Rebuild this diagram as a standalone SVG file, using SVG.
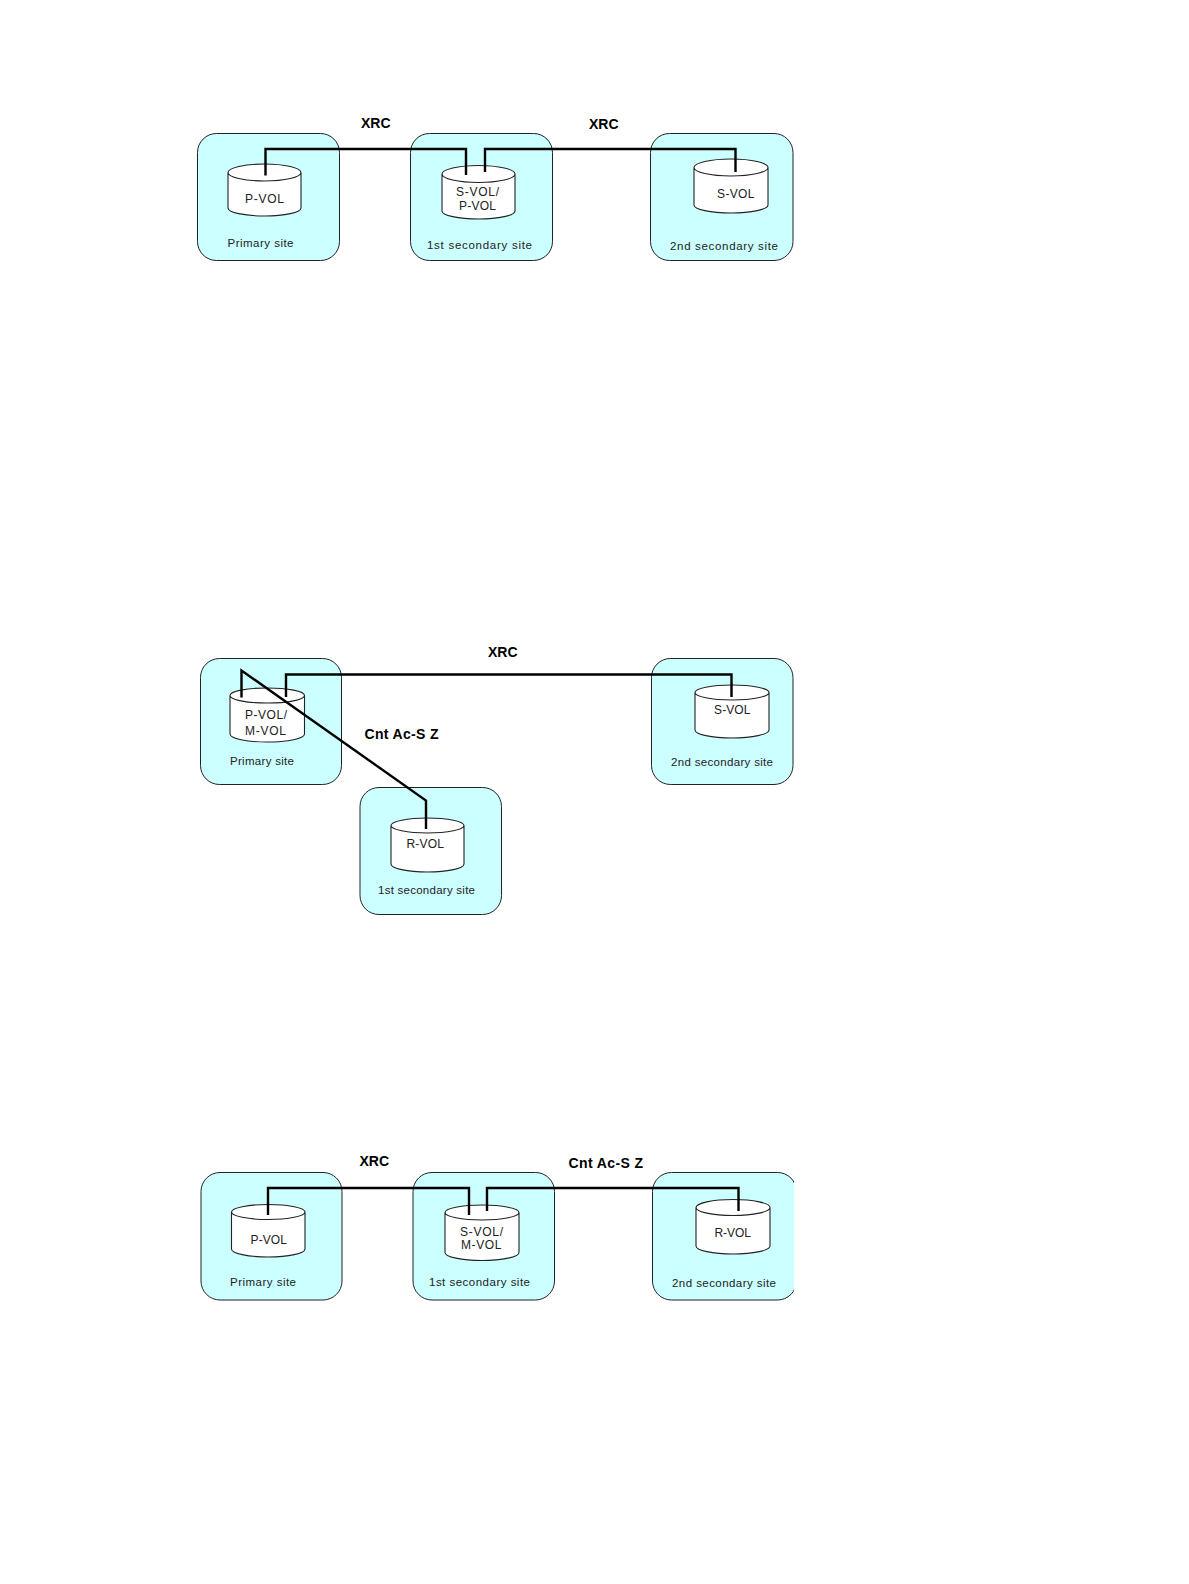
<svg xmlns="http://www.w3.org/2000/svg" width="1189" height="1584" viewBox="0 0 1189 1584">
<style>
.site{fill:#ccffff;stroke:#222;stroke-width:1}
.cyl{fill:#fff;stroke:#222;stroke-width:1.1}
.wire{fill:none;stroke:#000;stroke-width:2.4;stroke-linejoin:miter}
text{font-family:"Liberation Sans",Arial,sans-serif;fill:#222}
.v{font-size:12px}
.s{font-size:11.5px}
.b{font-size:14px;font-weight:bold;fill:#000}
</style>
<defs>
<clipPath id="edge"><rect x="640" y="1160" width="154" height="150"/></clipPath>
</defs>
<rect width="1189" height="1584" fill="#fff"/>

<g id="row1-primary">
<rect class="site" x="197.500" y="133.500" width="142" height="127" rx="19"/>
<path class="cyl" d="M228,172.500A36.500,8.500 0 0 0 301,172.500A36.500,8.500 0 0 0 228,172.500V208A36.500,8 0 0 0 301,208V172.500"/>
<text class="v" x="245" y="203" textLength="39">P-VOL</text>
<text class="s" x="227.500" y="247" textLength="66">Primary site</text>
</g>
<g id="row1-first">
<rect class="site" x="410.500" y="133.500" width="142" height="127" rx="19"/>
<path class="cyl" d="M442,174A36.500,8.500 0 0 0 515,174A36.500,8.500 0 0 0 442,174V211A36.500,8 0 0 0 515,211V174"/>
<text class="v" x="456" y="195.500" textLength="43">S-VOL/</text>
<text class="v" x="459" y="210" textLength="37">P-VOL</text>
<text class="s" x="427" y="249" textLength="105">1st secondary site</text>
</g>
<g id="row1-second">
<rect class="site" x="650.500" y="133.500" width="142.500" height="127" rx="19"/>
<path class="cyl" d="M694,167.500A37,8.500 0 0 0 768,167.500A37,8.500 0 0 0 694,167.500V205A37,8 0 0 0 768,205V167.500"/>
<text class="v" x="717" y="198" textLength="37.500">S-VOL</text>
<text class="s" x="670" y="250" textLength="108">2nd secondary site</text>
</g>

<g id="row2-primary">
<rect class="site" x="200.500" y="658.500" width="141" height="126" rx="19"/>
<path class="cyl" d="M230,695.500A37,7.500 0 0 0 304.500,695.500A37,7.500 0 0 0 230,695.500V734A37,8 0 0 0 304.500,734V695.500"/>
<text class="v" x="245" y="719" textLength="42">P-VOL/</text>
<text class="v" x="245" y="735" textLength="41">M-VOL</text>
<text class="s" x="230" y="765" textLength="64">Primary site</text>
</g>
<g id="row2-second">
<rect class="site" x="651.500" y="658.500" width="141.500" height="126" rx="19"/>
<path class="cyl" d="M695,692.500A37,7.500 0 0 0 769,692.500A37,7.500 0 0 0 695,692.500V730A37,8 0 0 0 769,730V692.500"/>
<text class="v" x="714" y="714" textLength="36.500">S-VOL</text>
<text class="s" x="671" y="766" textLength="102">2nd secondary site</text>
</g>
<g id="row2-first">
<rect class="site" x="360" y="787.500" width="141.500" height="127" rx="19"/>
<path class="cyl" d="M391,825.500A36.500,7.500 0 0 0 464,825.500A36.500,7.500 0 0 0 391,825.500V864A36.500,8 0 0 0 464,864V825.500"/>
<text class="v" x="406.500" y="848" textLength="37.500">R-VOL</text>
<text class="s" x="378" y="894" textLength="97">1st secondary site</text>
</g>

<g id="row3-primary">
<rect class="site" x="201" y="1172.500" width="141" height="127.500" rx="19"/>
<path class="cyl" d="M231.500,1212A36.750,7.500 0 0 0 305,1212A36.750,7.500 0 0 0 231.500,1212V1249A36.750,8 0 0 0 305,1249V1212"/>
<text class="v" x="250.500" y="1244" textLength="36.500">P-VOL</text>
<text class="s" x="230" y="1286" textLength="66">Primary site</text>
</g>
<g id="row3-first">
<rect class="site" x="413" y="1172.500" width="141.500" height="127.500" rx="19"/>
<path class="cyl" d="M445,1212.500A37,7.500 0 0 0 519,1212.500A37,7.500 0 0 0 445,1212.500V1252.500A37,8 0 0 0 519,1252.500V1212.500"/>
<text class="v" x="460" y="1236" textLength="43">S-VOL/</text>
<text class="v" x="461" y="1249" textLength="40.500">M-VOL</text>
<text class="s" x="429" y="1286" textLength="101">1st secondary site</text>
</g>
<g id="row3-second">
<rect class="site" x="652.500" y="1172.500" width="144" height="127.500" rx="19" clip-path="url(#edge)"/>
<path class="cyl" d="M696,1207.500A37,8 0 0 0 770,1207.500A37,8 0 0 0 696,1207.500V1246A37,8 0 0 0 770,1246V1207.500"/>
<text class="v" x="714.500" y="1237" textLength="36.500">R-VOL</text>
<text class="s" x="672" y="1286.500" textLength="104">2nd secondary site</text>
</g>

<g id="connectors">
<path class="wire" d="M265.500,175.500V149H466V175"/>
<path class="wire" d="M485,172V149H735.500V172"/>
<path class="wire" d="M286,697V674.500H731.500V697"/>
<path class="wire" d="M241.500,697.500V670.500L426,800.500V829"/>
<path class="wire" d="M268,1215V1188H469V1215"/>
<path class="wire" d="M487,1211V1188H738.500V1211"/>
</g>

<g id="labels">
<text class="b" x="361" y="128" textLength="29.500">XRC</text>
<text class="b" x="589" y="129" textLength="29.500">XRC</text>
<text class="b" x="488" y="657" textLength="29.500">XRC</text>
<text class="b" x="364.500" y="739" textLength="74">Cnt Ac-S Z</text>
<text class="b" x="359.500" y="1165.500" textLength="29.500">XRC</text>
<text class="b" x="568.500" y="1168" textLength="74.500">Cnt Ac-S Z</text>
</g>
</svg>
